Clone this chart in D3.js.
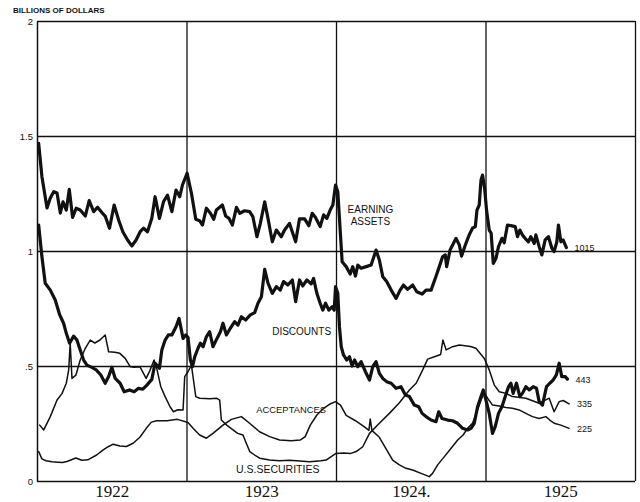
<!DOCTYPE html>
<html>
<head>
<meta charset="utf-8">
<script src="https://cdn.jsdelivr.net/npm/d3@7"></script>
<style>
  body { margin: 0; background: #fff; }
  svg { display: block; }
  .axis text { font-family: "Liberation Sans", Arial, sans-serif; }
</style>
</head>
<body>
<div id="chart"></div>
<script>
// weekly condition of the reserve banks
// [year, billions of dollars]
const earningAssets = [
  [1922.011,1.468],[1922.033,1.323],[1922.067,1.187],[1922.089,1.23],[1922.112,1.258],[1922.134,1.252],
  [1922.156,1.165],[1922.174,1.214],[1922.196,1.178],[1922.216,1.268],[1922.238,1.146],[1922.262,1.186],
  [1922.289,1.178],[1922.323,1.152],[1922.349,1.219],[1922.379,1.171],[1922.405,1.19],[1922.434,1.167],
  [1922.456,1.152],[1922.485,1.099],[1922.516,1.2],[1922.546,1.135],[1922.574,1.084],[1922.606,1.048],
  [1922.634,1.022],[1922.663,1.048],[1922.69,1.084],[1922.713,1.099],[1922.739,1.084],[1922.768,1.142],
  [1922.79,1.236],[1922.819,1.142],[1922.846,1.214],[1922.873,1.243],[1922.902,1.171],[1922.93,1.265],
  [1922.955,1.236],[1922.973,1.287],[1923.004,1.338],[1923.033,1.251],[1923.062,1.138],[1923.088,1.132],
  [1923.107,1.113],[1923.133,1.186],[1923.16,1.164],[1923.182,1.138],[1923.2,1.178],[1923.222,1.19],
  [1923.24,1.2],[1923.262,1.152],[1923.284,1.142],[1923.307,1.113],[1923.334,1.19],[1923.356,1.164],
  [1923.389,1.175],[1923.422,1.171],[1923.444,1.149],[1923.471,1.062],[1923.494,1.12],[1923.523,1.214],
  [1923.545,1.142],[1923.574,1.04],[1923.601,1.091],[1923.634,1.062],[1923.656,1.091],[1923.689,1.12],
  [1923.73,1.04],[1923.756,1.14],[1923.79,1.14],[1923.818,1.11],[1923.841,1.164],[1923.863,1.146],
  [1923.894,1.106],[1923.917,1.157],[1923.939,1.142],[1923.961,1.178],[1923.979,1.2],[1923.997,1.287],
  [1924.012,1.258],[1924.028,1.091],[1924.041,0.953],[1924.068,0.932],[1924.095,0.9],[1924.112,0.932],
  [1924.13,0.891],[1924.146,0.939],[1924.168,0.925],[1924.202,0.932],[1924.235,0.939],[1924.268,1.004],
  [1924.29,0.961],[1924.313,0.888],[1924.339,0.867],[1924.369,0.83],[1924.402,0.794],[1924.429,0.83],
  [1924.451,0.852],[1924.479,0.833],[1924.513,0.852],[1924.54,0.823],[1924.576,0.813],[1924.602,0.83],
  [1924.636,0.83],[1924.669,0.89],[1924.691,0.932],[1924.713,0.975],[1924.731,0.983],[1924.74,0.932],
  [1924.763,1.004],[1924.78,1.026],[1924.803,1.055],[1924.825,1.026],[1924.84,0.978],[1924.865,1.026],
  [1924.891,1.07],[1924.913,1.099],[1924.932,1.106],[1924.943,1.178],[1924.958,1.2],[1924.97,1.309],
  [1924.98,1.33],[1924.994,1.273],[1925.007,1.178],[1925.025,1.091],[1925.038,1.077],[1925.052,0.946],
  [1925.07,0.968],[1925.087,1.019],[1925.11,1.055],[1925.125,1.036],[1925.147,1.113],[1925.177,1.109],
  [1925.199,1.106],[1925.214,1.062],[1925.23,1.091],[1925.247,1.07],[1925.265,1.055],[1925.287,1.04],
  [1925.303,1.062],[1925.326,1.033],[1925.337,1.07],[1925.359,1.019],[1925.377,0.983],[1925.399,1.048],
  [1925.421,1.062],[1925.444,1.012],[1925.459,0.997],[1925.477,1.04],[1925.488,1.113],[1925.504,1.04],
  [1925.519,1.048],[1925.541,1.015]
];

const discounts = [
  [1922.011,1.113],[1922.033,0.975],[1922.055,0.86],[1922.089,0.83],[1922.122,0.787],[1922.152,0.722],
  [1922.178,0.686],[1922.196,0.642],[1922.218,0.599],[1922.245,0.63],[1922.267,0.613],[1922.289,0.57],
  [1922.312,0.526],[1922.334,0.504],[1922.367,0.494],[1922.396,0.483],[1922.427,0.461],[1922.456,0.425],
  [1922.479,0.454],[1922.501,0.494],[1922.523,0.446],[1922.556,0.425],[1922.583,0.388],[1922.619,0.396],
  [1922.65,0.388],[1922.679,0.403],[1922.708,0.399],[1922.735,0.417],[1922.768,0.442],[1922.79,0.512],
  [1922.819,0.49],[1922.835,0.57],[1922.857,0.613],[1922.879,0.635],[1922.902,0.635],[1922.93,0.671],
  [1922.95,0.707],[1922.977,0.62],[1922.995,0.635],[1923.01,0.625],[1923.026,0.526],[1923.04,0.497],
  [1923.055,0.54],[1923.077,0.577],[1923.093,0.599],[1923.111,0.584],[1923.133,0.627],[1923.155,0.649],
  [1923.177,0.584],[1923.204,0.62],[1923.227,0.649],[1923.244,0.686],[1923.267,0.635],[1923.293,0.664],
  [1923.322,0.693],[1923.344,0.678],[1923.367,0.714],[1923.396,0.7],[1923.427,0.722],[1923.456,0.732],
  [1923.478,0.773],[1923.501,0.801],[1923.523,0.92],[1923.545,0.86],[1923.574,0.816],[1923.601,0.845],
  [1923.627,0.83],[1923.649,0.867],[1923.678,0.852],[1923.708,0.874],[1923.73,0.78],[1923.756,0.874],
  [1923.778,0.848],[1923.805,0.874],[1923.834,0.857],[1923.85,0.881],[1923.872,0.816],[1923.894,0.773],
  [1923.912,0.743],[1923.93,0.773],[1923.952,0.743],[1923.975,0.758],[1923.988,0.743],[1923.997,0.845],
  [1924.012,0.816],[1924.023,0.671],[1924.035,0.584],[1924.05,0.548],[1924.072,0.526],[1924.09,0.54],
  [1924.108,0.5],[1924.124,0.526],[1924.146,0.497],[1924.168,0.519],[1924.197,0.475],[1924.224,0.439],
  [1924.246,0.497],[1924.268,0.519],[1924.29,0.468],[1924.313,0.446],[1924.339,0.432],[1924.369,0.425],
  [1924.402,0.403],[1924.435,0.41],[1924.464,0.374],[1924.491,0.367],[1924.524,0.33],[1924.553,0.323],
  [1924.576,0.294],[1924.602,0.28],[1924.636,0.265],[1924.669,0.258],[1924.687,0.301],[1924.709,0.272],
  [1924.747,0.265],[1924.78,0.262],[1924.813,0.251],[1924.847,0.229],[1924.88,0.222],[1924.903,0.229],
  [1924.925,0.251],[1924.947,0.323],[1924.97,0.367],[1924.985,0.396],[1925.003,0.352],[1925.025,0.294],
  [1925.047,0.207],[1925.065,0.236],[1925.087,0.294],[1925.11,0.323],[1925.132,0.367],[1925.154,0.41],
  [1925.17,0.425],[1925.185,0.381],[1925.207,0.425],[1925.23,0.367],[1925.247,0.381],[1925.27,0.41],
  [1925.292,0.396],[1925.319,0.41],[1925.341,0.403],[1925.359,0.345],[1925.381,0.33],[1925.408,0.41],
  [1925.43,0.425],[1925.452,0.439],[1925.474,0.461],[1925.493,0.512],[1925.51,0.454],[1925.533,0.454],
  [1925.548,0.443]
];

const acceptances = [
  [1922.011,0.128],[1922.033,0.096],[1922.06,0.088],[1922.1,0.084],[1922.14,0.082],[1922.17,0.08],
  [1922.2,0.085],[1922.26,0.1],[1922.3,0.09],[1922.34,0.092],[1922.399,0.113],[1922.443,0.135],
  [1922.476,0.149],[1922.51,0.16],[1922.554,0.152],[1922.598,0.15],[1922.643,0.164],[1922.688,0.19],
  [1922.732,0.23],[1922.765,0.256],[1922.8,0.262],[1922.87,0.262],[1922.94,0.268],[1923.01,0.254],
  [1923.044,0.229],[1923.088,0.2],[1923.133,0.186],[1923.177,0.207],[1923.244,0.243],[1923.3,0.268],
  [1923.367,0.28],[1923.422,0.251],[1923.489,0.214],[1923.556,0.193],[1923.623,0.178],[1923.7,0.175],
  [1923.76,0.178],[1923.794,0.193],[1923.828,0.243],[1923.872,0.287],[1923.917,0.316],[1923.961,0.335],
  [1923.997,0.345],[1924.03,0.33],[1924.068,0.285],[1924.13,0.262],[1924.19,0.235],[1924.22,0.22],
  [1924.229,0.27],[1924.24,0.22],[1924.29,0.19],[1924.335,0.14],[1924.379,0.091],[1924.424,0.07],
  [1924.468,0.055],[1924.513,0.048],[1924.569,0.033],[1924.624,0.019],[1924.646,0.033],[1924.68,0.07],
  [1924.725,0.106],[1924.77,0.142],[1924.814,0.178],[1924.85,0.2],[1924.88,0.229],[1924.913,0.251],
  [1924.947,0.309],[1924.97,0.352],[1924.992,0.384],[1925.014,0.36],[1925.047,0.33],[1925.092,0.326],
  [1925.137,0.32],[1925.18,0.316],[1925.225,0.309],[1925.27,0.294],[1925.314,0.28],[1925.359,0.272],
  [1925.404,0.28],[1925.43,0.265],[1925.459,0.251],[1925.504,0.243],[1925.559,0.229]
];

const securities = [
  [1922.018,0.243],[1922.045,0.222],[1922.089,0.28],[1922.134,0.352],[1922.167,0.38],[1922.196,0.425],
  [1922.212,0.483],[1922.222,0.599],[1922.234,0.446],[1922.26,0.46],[1922.289,0.526],[1922.323,0.577],
  [1922.356,0.613],[1922.387,0.6],[1922.421,0.613],[1922.456,0.635],[1922.479,0.562],[1922.521,0.56],
  [1922.554,0.555],[1922.59,0.533],[1922.623,0.497],[1922.654,0.494],[1922.688,0.497],[1922.73,0.446],
  [1922.755,0.48],[1922.783,0.526],[1922.801,0.49],[1922.828,0.41],[1922.857,0.367],[1922.89,0.323],
  [1922.913,0.301],[1922.942,0.31],[1922.977,0.309],[1922.988,0.454],[1923.01,0.475],[1923.033,0.504],
  [1923.062,0.367],[1923.088,0.36],[1923.155,0.358],[1923.2,0.36],[1923.222,0.352],[1923.233,0.265],
  [1923.269,0.243],[1923.311,0.222],[1923.342,0.207],[1923.378,0.2],[1923.4,0.164],[1923.423,0.128],
  [1923.456,0.113],[1923.49,0.099],[1923.556,0.091],[1923.623,0.088],[1923.69,0.09],[1923.823,0.084],
  [1923.9,0.088],[1923.934,0.091],[1923.968,0.106],[1924.0,0.12],[1924.05,0.122],[1924.1,0.12],
  [1924.135,0.128],[1924.179,0.149],[1924.224,0.207],[1924.29,0.251],[1924.357,0.294],[1924.424,0.34],
  [1924.491,0.396],[1924.536,0.425],[1924.58,0.483],[1924.613,0.53],[1924.658,0.54],[1924.7,0.55],
  [1924.715,0.613],[1924.737,0.57],[1924.78,0.584],[1924.825,0.591],[1924.9,0.585],[1924.936,0.577],
  [1924.992,0.533],[1925.025,0.483],[1925.059,0.417],[1925.092,0.388],[1925.137,0.381],[1925.18,0.367],
  [1925.27,0.36],[1925.359,0.338],[1925.426,0.36],[1925.459,0.301],[1925.493,0.345],[1925.52,0.35],
  [1925.559,0.335]
];

const yTicks = [0, 0.5, 1, 1.5, 2];
const yTickLabels = ["0", ".5", "1", "1.5", "2"];
const yearBreaks = [1923, 1924, 1925];
const yearMids = [1922.5, 1923.5, 1924.5, 1925.5];
const yearLabels = ["1922", "1923", "1924.", "1925"];
const endLabels = ["1015", "443", "225", "335"];

const W = 640, H = 502;
const x = d3.scaleLinear().domain([1922, 1926]).range([37, 635]);
const y = d3.scaleLinear().domain([0, 2]).range([481, 21]);
const ink = "#111";

const svg = d3.select("#chart").append("svg")
  .attr("width", W)
  .attr("height", H);

// grid: horizontal rules at every half billion, vertical at year ends
svg.append("g")
  .attr("transform", `translate(${x(1922)},0)`)
  .call(d3.axisRight(y).tickValues(yTicks).tickSize(x(1926) - x(1922)).tickFormat(""))
  .call(g => g.select(".domain").remove())
  .call(g => g.selectAll("line").attr("stroke", ink).attr("stroke-width", 1.5));

svg.append("g")
  .attr("transform", `translate(0,${y(0)})`)
  .call(d3.axisTop(x).tickValues(yearBreaks.concat([1926])).tickSize(y(0) - y(2)).tickFormat(""))
  .call(g => g.select(".domain").remove())
  .call(g => g.selectAll("line").attr("stroke", ink).attr("stroke-width", 1.3));

// left axis with its odd labels
svg.append("g")
  .attr("class", "axis")
  .attr("transform", `translate(${x(1922)},0)`)
  .call(d3.axisLeft(y).tickValues(yTicks).tickSize(0).tickPadding(4)
    .tickFormat((d, i) => yTickLabels[i]))
  .call(g => g.select(".domain").attr("stroke", ink).attr("stroke-width", 1.5))
  .call(g => g.selectAll("text").attr("fill", ink).style("font-size", "9.5px").attr("dy", "0.34em"));

// year labels under each column
svg.append("g")
  .attr("class", "axis")
  .attr("transform", `translate(0,${y(0)})`)
  .call(d3.axisBottom(x).tickValues(yearMids).tickSize(0).tickPadding(4)
    .tickFormat((d, i) => yearLabels[i]))
  .call(g => g.select(".domain").remove())
  .call(g => g.selectAll("text")
    .attr("fill", ink)
    .style("font-family", "'Liberation Serif', 'Times New Roman', serif")
    .style("font-size", "17px"));

svg.append("text")
  .attr("x", 13)
  .attr("y", 13)
  .attr("fill", ink)
  .style("font-family", "'Liberation Sans', Arial, sans-serif")
  .style("font-size", "8px")
  .style("font-weight", "bold")
  .text("BILLIONS OF DOLLARS");

const line = d3.line()
  .x(d => x(d[0]))
  .y(d => y(d[1]));

const series = [
  { id: "earning", values: earningAssets, width: 3.2 },
  { id: "discounts", values: discounts, width: 3.2 },
  { id: "acceptances", values: acceptances, width: 1.5 },
  { id: "securities", values: securities, width: 1.5 },
];

svg.selectAll(".series")
  .data(series)
  .enter()
  .append("path")
  .attr("class", "series")
  .attr("d", d => line(d.values))
  .attr("fill", "none")
  .attr("stroke", ink)
  .attr("stroke-width", d => d.width)
  .attr("stroke-linejoin", "round")
  .attr("stroke-linecap", "round");

// latest figures at the right end of each line
svg.selectAll(".end-label")
  .data(series)
  .enter()
  .append("text")
  .attr("class", "end-label")
  .attr("x", d => x(d.values[d.values.length - 1][0]) + 8)
  .attr("y", d => y(d.values[d.values.length - 1][1]) + 3.5)
  .attr("fill", ink)
  .style("font-family", "'Liberation Sans', Arial, sans-serif")
  .style("font-size", "9px")
  .text((d, i) => endLabels[i]);

// names written on the chart
const names = [
  { text: "EARNING", at: [1924.23, 1.165], size: 10 },
  { text: "ASSETS", at: [1924.23, 1.113], size: 10 },
  { text: "DISCOUNTS", at: [1923.77, 0.635], size: 10 },
  { text: "ACCEPTANCES", at: [1923.7, 0.295], size: 9.4 },
  { text: "U.S.SECURITIES", at: [1923.61, 0.035], size: 10.5 },
];

svg.selectAll(".name")
  .data(names)
  .enter()
  .append("text")
  .attr("class", "name")
  .attr("x", d => x(d.at[0]))
  .attr("y", d => y(d.at[1]))
  .attr("text-anchor", "middle")
  .attr("fill", ink)
  .style("font-family", "'Liberation Sans', Arial, sans-serif")
  .style("font-size", d => d.size + "px")
  .text(d => d.text);
</script>
</body>
</html>
